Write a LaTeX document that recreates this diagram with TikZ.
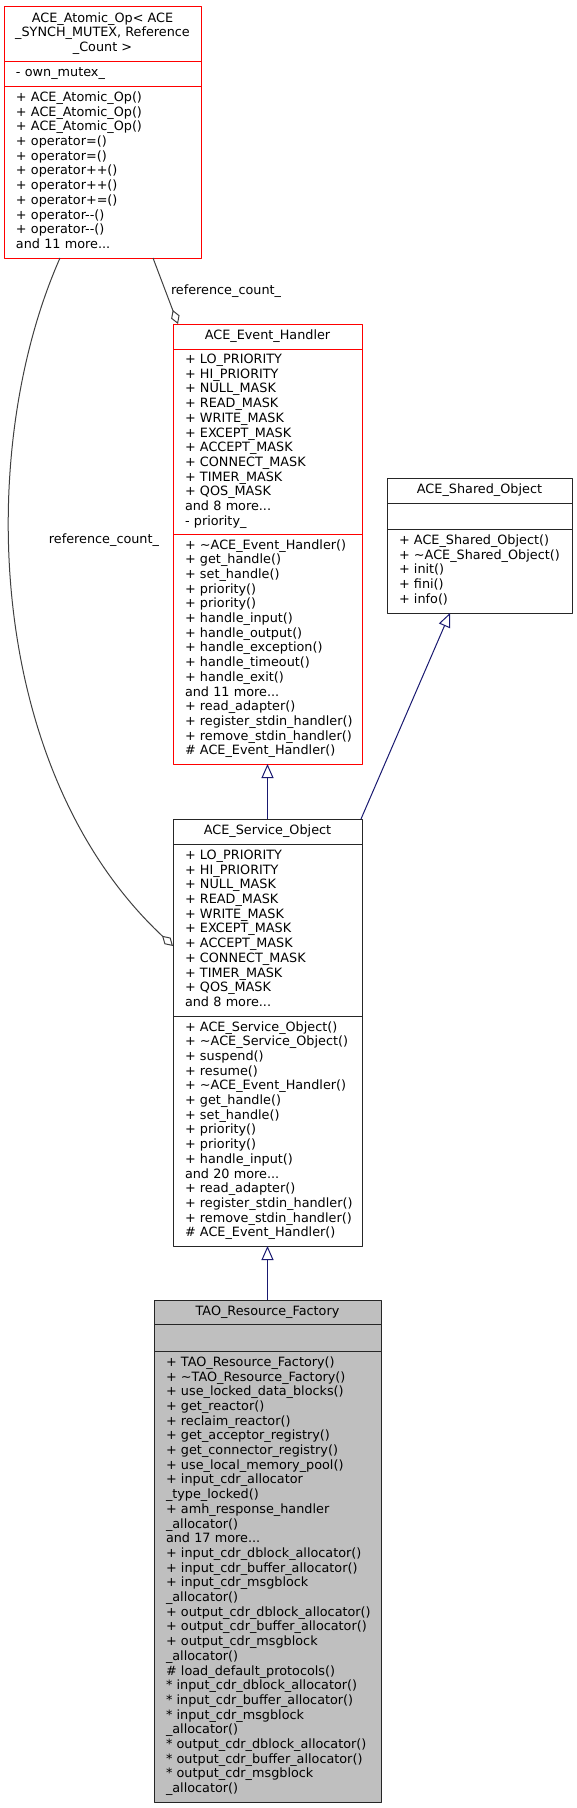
\documentclass[tikz,border=0pt]{standalone}
\usepackage{fontspec}
\setmainfont{DejaVu Sans}
\usetikzlibrary{arrows.meta}
\definecolor{midnightblue}{RGB}{25,25,112}
\definecolor{grey25}{RGB}{64,64,64}
\definecolor{grey75}{RGB}{191,191,191}
\newcommand{\memberrows}[1]{\begin{tabular}{@{}l@{}}#1\end{tabular}}
\begin{document}
\begin{tikzpicture}[x=1pt,y=-1pt,line join=round,line width=1pt,
  font=\fontsize{12.8}{14.7}\selectfont,
  head/.style={draw,line width=0.85pt,anchor=north west,inner sep=0pt,outer sep=0pt,align=center,minimum height=25pt},
  part/.style={draw,line width=0.85pt,anchor=north west,inner xsep=12pt,inner ysep=0pt,outer sep=0pt,align=left},
  redbox/.style={draw=red},
  blackbox/.style={draw=black!85},
  inherit/.style={draw=midnightblue,-{Triangle[open,length=14pt,width=12pt]}},
  aggr/.style={draw=grey25,-{Diamond[open,length=15pt,width=9pt]}},
  edgelabel/.style={inner sep=5pt}]
\useasboundingbox (0,0) rectangle (577,1808);
% ACE_Atomic_Op
\node[head,redbox,minimum width=197pt,minimum height=55pt] (ao-head) at (4,6)
  {ACE\_Atomic\_Op< ACE\\\_SYNCH\_MUTEX, Reference\\\_Count >};
\node[part,redbox,text width=173pt,minimum height=25pt] (ao-attr) at (ao-head.south west)
  {\memberrows{- own\_mutex\_}};
\node[part,redbox,text width=173pt,minimum height=172pt] (ao-meth) at (ao-attr.south west)
  {\memberrows{+ ACE\_Atomic\_Op()\\+ ACE\_Atomic\_Op()\\+ ACE\_Atomic\_Op()\\
  + operator=()\\+ operator=()\\+ operator++()\\+ operator++()\\+ operator+=()\\
  + operator-{}-()\\+ operator-{}-()\\and 11 more...}};
% ACE_Event_Handler
\node[head,redbox,minimum width=189pt] (eh-head) at (173,324) {ACE\_Event\_Handler};
\node[part,redbox,text width=165pt,minimum height=185pt] (eh-attr) at (eh-head.south west)
  {\memberrows{+ LO\_PRIORITY\\+ HI\_PRIORITY\\+ NULL\_MASK\\+ READ\_MASK\\+ WRITE\_MASK\\
  + EXCEPT\_MASK\\+ ACCEPT\_MASK\\+ CONNECT\_MASK\\+ TIMER\_MASK\\+ QOS\_MASK\\
  and 8 more...\\- priority\_}};
\node[part,redbox,text width=165pt,minimum height=230pt] (eh-meth) at (eh-attr.south west)
  {\memberrows{+ \textasciitilde ACE\_Event\_Handler()\\+ get\_handle()\\+ set\_handle()\\
  + priority()\\+ priority()\\+ handle\_input()\\+ handle\_output()\\+ handle\_exception()\\
  + handle\_timeout()\\+ handle\_exit()\\and 11 more...\\+ read\_adapter()\\
  + register\_stdin\_handler()\\+ remove\_stdin\_handler()\\\# ACE\_Event\_Handler()}};
% ACE_Shared_Object
\node[head,blackbox,minimum width=185pt] (so-head) at (387,478) {ACE\_Shared\_Object};
\node[part,blackbox,text width=161pt,minimum height=26pt] (so-attr) at (so-head.south west) {};
\node[part,blackbox,text width=161pt,minimum height=84pt] (so-meth) at (so-attr.south west)
  {\memberrows{+ ACE\_Shared\_Object()\\+ \textasciitilde ACE\_Shared\_Object()\\
  + init()\\+ fini()\\+ info()}};
% ACE_Service_Object
\node[head,blackbox,minimum width=189pt] (svc-head) at (173,819) {ACE\_Service\_Object};
\node[part,blackbox,text width=165pt,minimum height=172pt] (svc-attr) at (svc-head.south west)
  {\memberrows{+ LO\_PRIORITY\\+ HI\_PRIORITY\\+ NULL\_MASK\\+ READ\_MASK\\+ WRITE\_MASK\\
  + EXCEPT\_MASK\\+ ACCEPT\_MASK\\+ CONNECT\_MASK\\+ TIMER\_MASK\\+ QOS\_MASK\\
  and 8 more...}};
\node[part,blackbox,text width=165pt,minimum height=230pt] (svc-meth) at (svc-attr.south west)
  {\memberrows{+ ACE\_Service\_Object()\\+ \textasciitilde ACE\_Service\_Object()\\
  + suspend()\\+ resume()\\+ \textasciitilde ACE\_Event\_Handler()\\+ get\_handle()\\
  + set\_handle()\\+ priority()\\+ priority()\\+ handle\_input()\\and 20 more...\\
  + read\_adapter()\\+ register\_stdin\_handler()\\+ remove\_stdin\_handler()\\
  \# ACE\_Event\_Handler()}};
% TAO_Resource_Factory
\node[head,blackbox,fill=grey75,minimum width=227pt,minimum height=24pt] (trf-head) at (154,1300)
  {TAO\_Resource\_Factory};
\node[part,blackbox,fill=grey75,text width=203pt,minimum height=27pt] (trf-attr) at (trf-head.south west) {};
\node[part,blackbox,fill=grey75,text width=203pt,minimum height=451pt] (trf-meth) at (trf-attr.south west)
  {\memberrows{+ TAO\_Resource\_Factory()\\+ \textasciitilde TAO\_Resource\_Factory()\\
  + use\_locked\_data\_blocks()\\+ get\_reactor()\\+ reclaim\_reactor()\\
  + get\_acceptor\_registry()\\+ get\_connector\_registry()\\+ use\_local\_memory\_pool()\\
  + input\_cdr\_allocator\\\_type\_locked()\\+ amh\_response\_handler\\\_allocator()\\
  and 17 more...\\+ input\_cdr\_dblock\_allocator()\\+ input\_cdr\_buffer\_allocator()\\
  + input\_cdr\_msgblock\\\_allocator()\\+ output\_cdr\_dblock\_allocator()\\
  + output\_cdr\_buffer\_allocator()\\+ output\_cdr\_msgblock\\\_allocator()\\
  \# load\_default\_protocols()\\{*} input\_cdr\_dblock\_allocator()\\
  {*} input\_cdr\_buffer\_allocator()\\{*} input\_cdr\_msgblock\\\_allocator()\\
  {*} output\_cdr\_dblock\_allocator()\\{*} output\_cdr\_buffer\_allocator()\\
  {*} output\_cdr\_msgblock\\\_allocator()}};
% connectors
\draw[inherit] (svc-head.north) -- (eh-meth.south);
\draw[inherit] (trf-head.north) -- (svc-meth.south);
\draw[inherit] ([xshift=-1pt]svc-head.north east) -- ([xshift=-29.5pt]so-meth.south);
\draw[aggr] ([xshift=50.5pt]ao-meth.south) -- node[edgelabel,right] (lbl-eh) {reference\_count\_}
  ([xshift=5pt]eh-head.north west);
\draw[aggr] ([xshift=-42.5pt]ao-meth.south) .. controls (-25,450) and (-15,770) ..
  ([yshift=-16pt]svc-attr.west);
\node[edgelabel] (lbl-svc) at (104,540) {reference\_count\_};
\end{tikzpicture}
\end{document}
